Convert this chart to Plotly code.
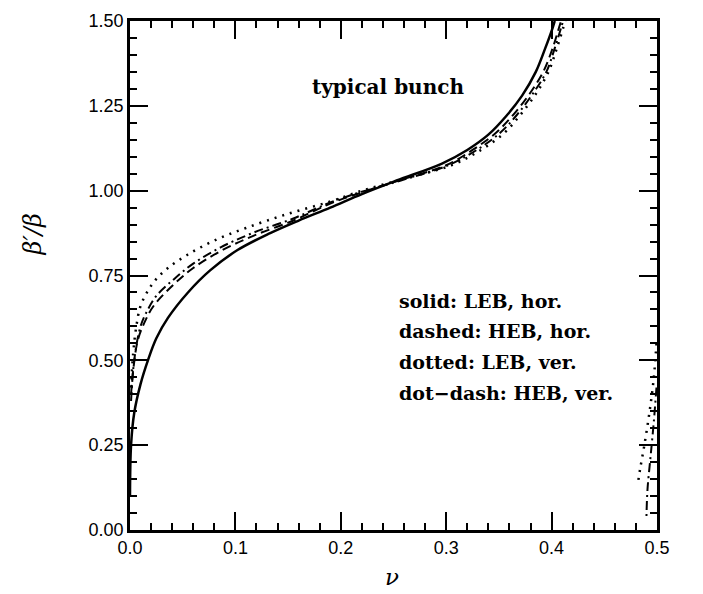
import plotly.graph_objects as go

# ---- data ----
solid_x = [0.0, 0.001, 0.004, 0.010, 0.017, 0.025, 0.036, 0.055, 0.076, 0.102, 0.133, 0.160,
           0.190, 0.220, 0.253, 0.296, 0.320, 0.340, 0.357, 0.372, 0.385, 0.394, 0.401, 0.403]
solid_y = [0.10, 0.25, 0.345, 0.43, 0.50, 0.565, 0.625, 0.70, 0.765, 0.825, 0.875, 0.912,
           0.950, 0.99, 1.03, 1.08, 1.12, 1.165, 1.22, 1.28, 1.35, 1.42, 1.48, 1.50]

dashed_x = [0.001, 0.003, 0.0075, 0.015, 0.023, 0.042, 0.060, 0.086, 0.117, 0.155, 0.190,
            0.220, 0.255, 0.300, 0.325, 0.347, 0.364, 0.379, 0.392, 0.401, 0.407, 0.409]
dashed_y = [0.40, 0.47, 0.56, 0.62, 0.663, 0.725, 0.772, 0.822, 0.867, 0.912, 0.962,
            0.995, 1.03, 1.075, 1.12, 1.17, 1.225, 1.285, 1.35, 1.42, 1.48, 1.50]

dotted_x = [0.001, 0.003, 0.006, 0.010, 0.017, 0.025, 0.036, 0.055, 0.080, 0.110, 0.148,
            0.190, 0.220, 0.260, 0.305, 0.333, 0.355, 0.370, 0.385, 0.397, 0.405, 0.411, 0.413]
dotted_y = [0.42, 0.52, 0.60, 0.66, 0.705, 0.74, 0.772, 0.812, 0.853, 0.89, 0.93,
            0.968, 1.00, 1.035, 1.075, 1.12, 1.17, 1.222, 1.285, 1.35, 1.42, 1.48, 1.50]
dotted_rx = [0.4995, 0.497, 0.493, 0.488, 0.484, 0.482]
dotted_ry = [0.55, 0.45, 0.35, 0.25, 0.18, 0.14]

dotdash_x = [0.001, 0.004, 0.010, 0.017, 0.025, 0.042, 0.060, 0.086, 0.117, 0.155, 0.190,
             0.220, 0.257, 0.302, 0.329, 0.351, 0.367, 0.382, 0.395, 0.403, 0.409, 0.411]
dotdash_y = [0.38, 0.50, 0.60, 0.65, 0.69, 0.74, 0.785, 0.833, 0.876, 0.918, 0.965,
             0.997, 1.03, 1.075, 1.12, 1.17, 1.223, 1.285, 1.35, 1.42, 1.48, 1.50]
dotdash_rx = [0.4995, 0.497, 0.494, 0.491, 0.490]
dotdash_ry = [0.42, 0.32, 0.22, 0.12, 0.04]

x_ticks = [0.0, 0.1, 0.2, 0.3, 0.4, 0.5]
x_ticklabels = ["0.0", "0.1", "0.2", "0.3", "0.4", "0.5"]
y_ticks = [0.0, 0.25, 0.5, 0.75, 1.0, 1.25, 1.5]
y_ticklabels = ["0.00", "0.25", "0.50", "0.75", "1.00", "1.25", "1.50"]

legend_lines = ["solid: LEB, hor.", "dashed: HEB, hor.", "dotted: LEB, ver.", "dot\u2212dash: HEB, ver."]
legend_y = [0.675, 0.585, 0.495, 0.405]

fig = go.Figure()
def add(x, y, dash, w):
    fig.add_trace(go.Scatter(x=x, y=y, mode="lines",
                             line=dict(color="black", width=w, dash=dash, shape="spline", smoothing=1.0),
                             showlegend=False, hoverinfo="skip"))

add(solid_x, solid_y, "solid", 2.5)
add(dashed_x, dashed_y, "9px,5px", 2)
add(dotted_x, dotted_y, "2px,6px", 2.5)
add(dotted_rx, dotted_ry, "2px,6px", 2.5)
add(dotdash_x, dotdash_y, "9px,4px,2px,4px", 2)
add(dotdash_rx, dotdash_ry, "9px,4px,2px,4px", 2)

axis_common = dict(showgrid=False, zeroline=False, showline=True, linecolor="black", linewidth=2.5,
                   mirror="ticks", ticks="inside", tickcolor="black", tickwidth=2, ticklen=18,
                   tickfont=dict(family="Liberation Sans", size=18, color="black"))

fig.update_xaxes(range=[0, 0.5], tickvals=x_ticks, ticktext=x_ticklabels,
                 minor=dict(dtick=0.02, ticklen=7, ticks="inside", tickcolor="black", tickwidth=1.5),
                 **axis_common)
fig.update_yaxes(range=[0, 1.5], tickvals=y_ticks, ticktext=y_ticklabels,
                 minor=dict(dtick=0.05, ticklen=7, ticks="inside", tickcolor="black", tickwidth=1.5),
                 **axis_common)

fig.add_annotation(x=0.245, y=1.305, text="<b>typical bunch</b>", showarrow=False,
                   font=dict(family="DejaVu Serif", size=20, color="black"))
for t, yy in zip(legend_lines, legend_y):
    fig.add_annotation(x=0.253, y=yy, text="<b>" + t + "</b>", showarrow=False, xanchor="left",
                       font=dict(family="DejaVu Serif", size=19, color="black"))

fig.add_annotation(xref="paper", yref="paper", x=0.497, y=-0.093, yanchor="middle", text="<i>\u03bd</i>",
                   showarrow=False, font=dict(family="DejaVu Serif", size=23, color="black"))
fig.add_annotation(xref="paper", yref="y", x=-0.215, y=0.87, text="<i>\u03b2\u2032/\u03b2</i>", textangle=-90,
                   showarrow=False, font=dict(family="DejaVu Serif", size=24, color="black"))

fig.update_layout(width=703, height=594, margin=dict(l=130, r=46, t=11, b=64),
                  plot_bgcolor="white", paper_bgcolor="white")
fig.write_html("out.html")
